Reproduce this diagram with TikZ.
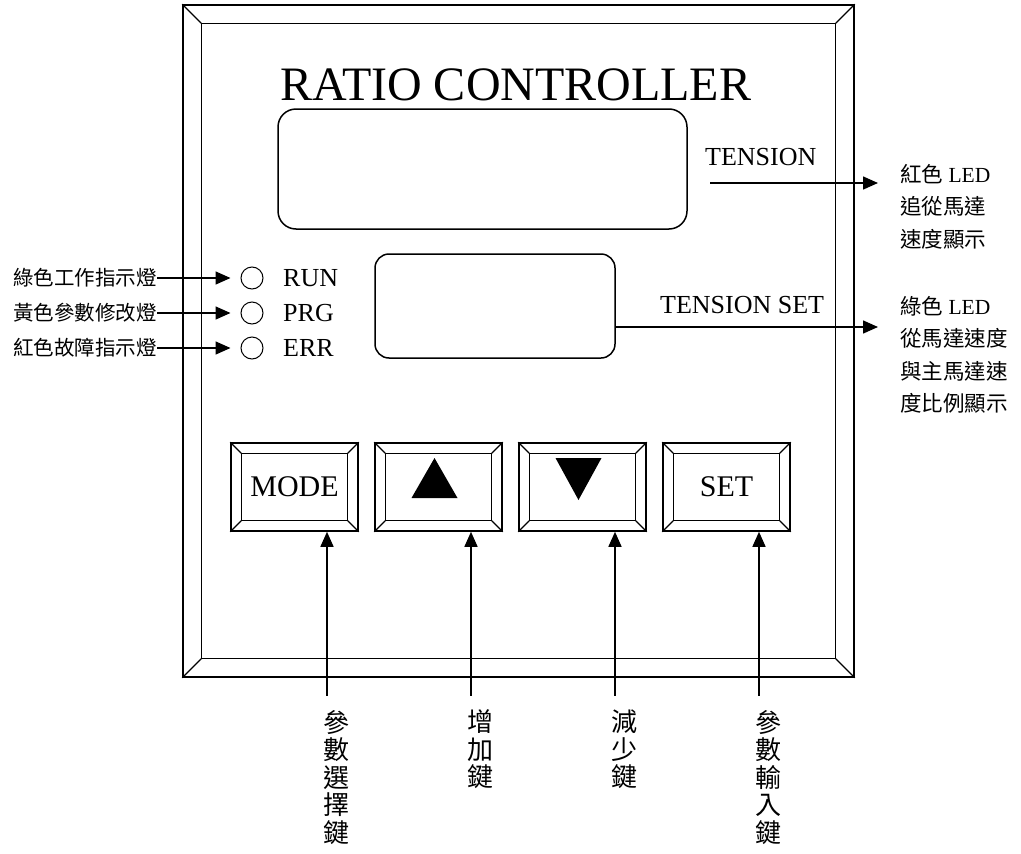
\documentclass[tikz,border=0pt]{standalone}
\usepackage{fontspec}
\setmainfont{Liberation Serif}
\newfontfamily\cjk{Noto Sans CJK TC}
\usetikzlibrary{arrows.meta,positioning,calc}
\newcommand{\bevel}[2]{%
  \draw[line width=1.2pt] ($(#1.north west)+(#2,-#2)$) rectangle ($(#1.south east)+(-#2,#2)$);
  \draw[line width=1.2pt] (#1.north west) -- ++(#2,-#2) (#1.north east) -- ++(-#2,-#2)
    (#1.south west) -- ++(#2,#2) (#1.south east) -- ++(-#2,#2);
}
\tikzset{
  panel/.style={rectangle, draw, line width=1.6pt, inner sep=0pt},
  lcd/.style={rectangle, draw, line width=1.5pt, inner sep=0pt},
  keybox/.style={rectangle, draw, line width=1.6pt, inner sep=0pt, minimum width=127pt,
                 minimum height=88pt, font=\fontsize{30}{32}\selectfont},
  lamp/.style={circle, draw, line width=1pt, minimum size=22pt, inner sep=0pt},
  lbl/.style={inner sep=0pt, font=\fontsize{26}{28}\selectfont},
  llbl/.style={inner sep=0pt, font=\cjk\fontsize{20.5}{22}\selectfont},
  rlbl/.style={inner sep=0pt, align=left, font=\fontsize{21.5}{32.5}\selectfont},
  vlbl/.style={inner sep=0pt, align=center, font=\cjk\fontsize{26}{27.5}\selectfont},
  arr/.style={-{Triangle[length=15pt,width=13pt]}, line width=1.5pt},
}
\begin{document}
\begin{tikzpicture}[x=1pt,y=1pt]
  \useasboundingbox (0,0) rectangle (1021,-854);
  \node[panel, minimum width=671pt, minimum height=672pt] (p) at (518.5,-341) {};
  \bevel{p}{19}
  \node[anchor=base, inner sep=0pt, font=\fontsize{48}{50}\selectfont] (t) at (516,-100) {RATIO CONTROLLER};
  \node[lcd, rounded corners=18pt, minimum width=409pt, minimum height=120pt] (d1) at (482.5,-169) {};
  \node[lcd, rounded corners=14pt, minimum width=240pt, minimum height=104pt] (d2) at (495,-306) {};
  \node[lbl, anchor=base west] (ten) at (705,-165) {TENSION};
  \node[lbl, anchor=base west] (tset) at (660,-313) {TENSION SET};
  \node[rlbl, anchor=north west] (r1) at (900,-164) {{\cjk 紅色} LED\\{\cjk 追從馬達}\\{\cjk 速度顯示}};
  \node[rlbl, anchor=north west] (r2) at (900,-296) {{\cjk 綠色} LED\\{\cjk 從馬達速度}\\{\cjk 與主馬達速}\\{\cjk 度比例顯示}};
  \coordinate (a1) at (710,-183);
  \draw[arr, shorten >=22pt] (a1) -- (a1 -| r1.west);
  \draw[arr, shorten >=22pt] ([yshift=-21pt]d2.east) -- ([yshift=-21pt]d2.east -| r2.west);
  \foreach \i/\y/\n/\c in {1/278/RUN/綠色工作指示燈, 2/313/PRG/黃色參數修改燈, 3/348/ERR/紅色故障指示燈} {
    \node[lamp] (l\i) at (252,-\y) {};
    \node[lbl, anchor=west] (n\i) at (283,-\y) {\n};
    \node[llbl, anchor=east] (c\i) at (157,-\y) {\c};
    \draw[arr, shorten >=10pt] (c\i) -- (l\i);
  }
  \foreach \i/\x/\t in {1/294.5/MODE, 2/438.5/{}, 3/582.5/{}, 4/726.5/SET} {
    \node[keybox] (b\i) at (\x,-487) {\t};
    \bevel{b\i}{11}
  }
  \fill ($(b2)+(-27,-11)$) -- ($(b2)+(19,-11)$) -- ($(b2)+(-4,29)$) -- cycle;
  \fill ($(b3)+(-27,29)$) -- ($(b3)+(19,29)$) -- ($(b3)+(-4,-13)$) -- cycle;
  \foreach \i/\t in {1/{參\\數\\選\\擇\\鍵}, 2/{增\\加\\鍵}, 3/{減\\少\\鍵}, 4/{參\\數\\輸\\入\\鍵}} {
    \node[vlbl, anchor=north] (k\i) at ($(b\i.south)+(41.5,-178)$) {\t};
    \draw[arr] ($(k\i.north)+(-9,14)$) -- ($(b\i.south)+(32.5,0)$);
  }
\end{tikzpicture}
\end{document}
